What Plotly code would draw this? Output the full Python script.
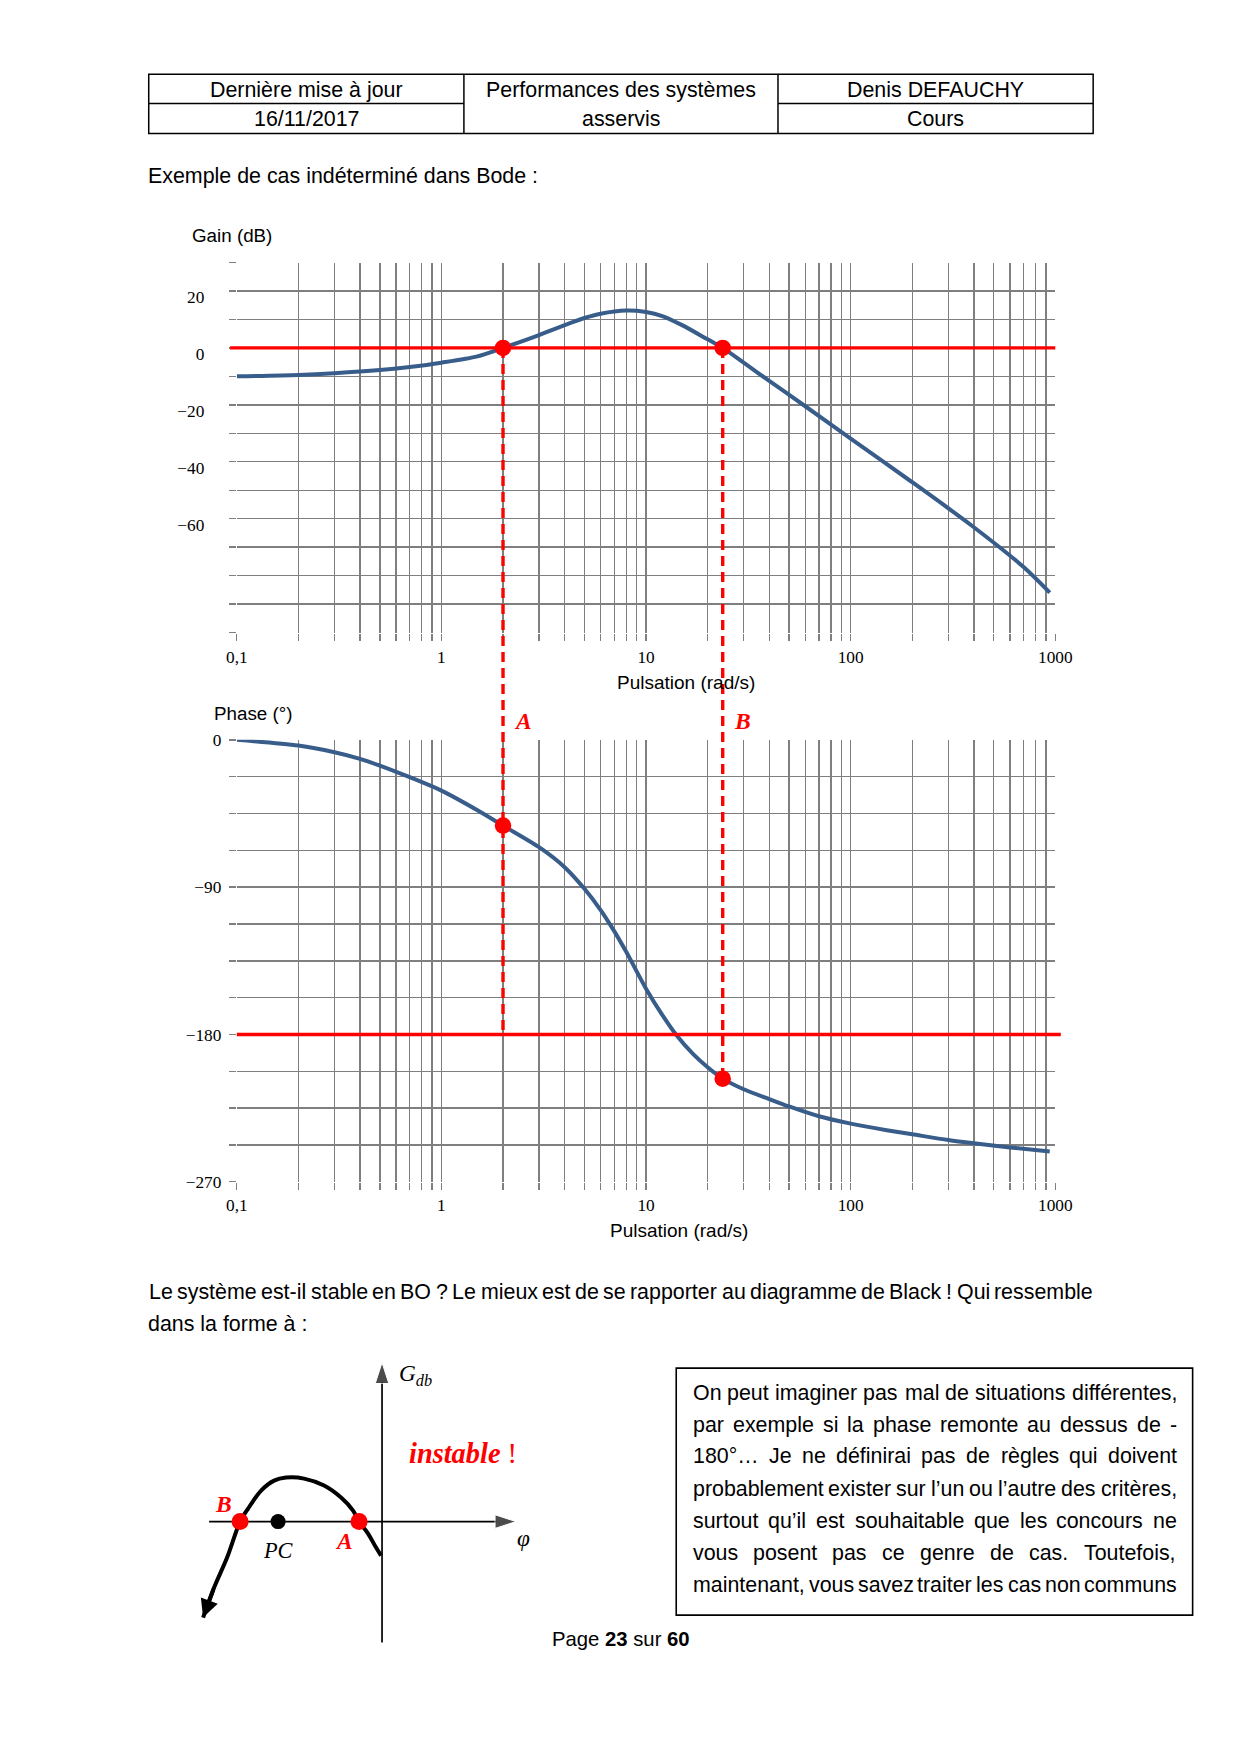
import math
import plotly.graph_objects as go

# Page is 1240x1754; the browser body keeps its 8px margin, so the figure is 1224x1738
PAGE_W, PAGE_H, OFF = 1240, 1754, 8
W, H = PAGE_W - 2 * OFF, PAGE_H - 2 * OFF
# measured placement correction of this viewer (output = a + s * page coordinate)
TXA, TXS = 10.0, 0.9775
TYA, TYS = 8.6, 0.989

# ------------------------------------------------------------------ data
gain_w = [0.1, 0.2, 0.3, 0.5, 0.7, 1, 1.5, 2, 3, 4, 5, 6, 8, 10, 12, 15, 20, 23.7,
          30, 40, 60, 100, 200, 400, 700, 940]
gain_db = [-10, -9.5, -8.9, -7.8, -6.7, -5.2, -3, 0, 4.5, 8, 10.5, 12, 13.1, 12.6, 11.2, 8, 3, 0,
           -5.2, -11.6, -20.5, -31.9, -47.2, -63, -77, -86]

phase_w = [0.1, 0.2, 0.3, 0.4, 0.5, 0.7, 1, 1.5, 2, 3, 4, 5, 6, 7, 8, 10, 12, 14, 17, 20, 23.7,
           30, 40, 50, 70, 100, 150, 200, 300, 400, 600, 940]
phase_deg = [0, -3.5, -7.6, -11.6, -15.7, -22.8, -31, -43, -52.4, -65.6, -77.8, -91, -104, -117,
             -129.5, -152, -168, -180, -192, -200, -207, -213.5, -219.5, -224, -230, -234.5, -238.5,
             -241, -244.5, -246.5, -249, -251.5]

cross_w = [2.0, 23.7]            # A, B
cross_names = ["A", "B"]
cross_gain = [0, 0]
cross_phase = [-52.4, -207.0]
gain_ref = 0                     # 0 dB line
phase_ref = -180                 # -180° line

gain_tick_vals = [20, 0, -20, -40, -60]
gain_tick_text = ["20", "0", "−20", "−40", "−60"]
phase_tick_vals = [0, -90, -180, -270]
phase_tick_text = ["0", "−90", "−180", "−270"]
x_tick_vals = [0.1, 1, 10, 100, 1000]
x_tick_text = ["0,1", "1", "10", "100", "1000"]

# Black-diagram sketch (arbitrary units, origin at axes crossing)
sketch_phi = [-1, -6, -14, -23, -29, -41, -58, -78, -96, -108, -121, -134, -142, -155, -168, -179]
sketch_gain = [-34, -26, -12, 0, 11, 24, 36, 43, 44, 41, 31, 13, 0, -36, -66, -96]
sketch_pts_phi = [-142, -23]     # B, A
sketch_pts_names = ["B", "A"]
sketch_pc_phi = -104

header_rows = [["Dernière mise à jour", "Performances des systèmes", "Denis DEFAUCHY"],
               ["16/11/2017", "asservis", "Cours"]]
box_lines = [
    "On peut imaginer pas mal de situations différentes,",
    "par exemple si la phase remonte au dessus de -",
    "180°… Je ne définirai pas de règles qui doivent",
    "probablement exister sur l’un ou l’autre des critères,",
    "surtout qu’il est souhaitable que les concours ne",
    "vous posent pas ce genre de cas. Toutefois,",
    "maintenant, vous savez traiter les cas non communs",
]
para_lines = ["Le système est-il stable en BO ? Le mieux est de se rapporter au diagramme de Black ! Qui ressemble",
              "dans la forme à :"]

# ------------------------------------------------------------------ styles
SANS = "Liberation Sans"
SERIF = "Liberation Serif"
BLUE = "#385d8a"
RED = "#ff0000"
GRID = "#7f7f7f"
BODY = 21.4


def fx(t):
    return (t - TXA) / TXS - OFF


def fy(t):
    return (t - TYA) / TYS - OFF


def px(t):
    return fx(t) / W


def py(t):
    return 1 - fy(t) / H


XD = [px(235.7), px(1054.5)]
GD = [py(632), py(262)]
PD = [py(1181.2), py(739.3)]
GR = [-100, 30]
PR = [-270, 0]
SXD = [px(180), px(540)]
SYD = [py(1660), py(1350)]
SXR = [-201, 159]
SYR = [-139, 171]


def to_paper(v, dom, rng):
    return dom[0] + (v - rng[0]) / (rng[1] - rng[0]) * (dom[1] - dom[0])


fig = go.Figure()

# Bode curves
fig.add_trace(go.Scatter(x=gain_w, y=gain_db, mode="lines", xaxis="x", yaxis="y",
                         line=dict(color=BLUE, width=4, shape="spline", smoothing=0.8),
                         hoverinfo="skip"))
fig.add_trace(go.Scatter(x=phase_w, y=phase_deg, mode="lines", xaxis="x2", yaxis="y2",
                         line=dict(color=BLUE, width=4, shape="spline", smoothing=0.8),
                         hoverinfo="skip"))
fig.add_trace(go.Scatter(x=cross_w, y=cross_gain, mode="markers", xaxis="x", yaxis="y",
                         marker=dict(color=RED, size=16.5), cliponaxis=False, hoverinfo="skip"))
fig.add_trace(go.Scatter(x=cross_w, y=cross_phase, mode="markers", xaxis="x2", yaxis="y2",
                         marker=dict(color=RED, size=16.5), cliponaxis=False, hoverinfo="skip"))

# Sketch
fig.add_trace(go.Scatter(x=[0, 0], y=[-121, 159], mode="lines+markers", xaxis="x3", yaxis="y3",
                         line=dict(color="black", width=1.7),
                         marker=dict(symbol="arrow", size=[0, 22], color="black", angleref="previous"),
                         cliponaxis=False, hoverinfo="skip"))
fig.add_trace(go.Scatter(x=[-173, 134], y=[0, 0], mode="lines+markers", xaxis="x3", yaxis="y3",
                         line=dict(color="black", width=1.7),
                         marker=dict(symbol="arrow", size=[0, 22], color="black", angleref="previous"),
                         cliponaxis=False, hoverinfo="skip"))
fig.add_trace(go.Scatter(x=sketch_phi, y=sketch_gain, mode="lines", xaxis="x3", yaxis="y3",
                         line=dict(color="black", width=4, shape="spline", smoothing=0.9),
                         cliponaxis=False, hoverinfo="skip"))
fig.add_trace(go.Scatter(x=[sketch_pc_phi], y=[0], mode="markers", xaxis="x3", yaxis="y3",
                         marker=dict(color="black", size=15), cliponaxis=False, hoverinfo="skip"))
fig.add_trace(go.Scatter(x=sketch_pts_phi, y=[0, 0], mode="markers", xaxis="x3", yaxis="y3",
                         marker=dict(color=RED, size=17), cliponaxis=False, hoverinfo="skip"))

minor_vals = [k * 10 ** e for e in range(-1, 3) for k in range(2, 10)]
TICKF = dict(family=SERIF, size=17.3, color="black")


def xaxis_cfg(anchor, standoff):
    return dict(domain=XD, anchor=anchor, type="log", range=[-1, 3],
                tickmode="array", tickvals=x_tick_vals, ticktext=x_tick_text,
                showgrid=True, gridcolor=GRID, gridwidth=1.4,
                ticks="outside", ticklen=7, tickcolor=GRID, tickwidth=1.4,
                tickfont=TICKF, ticklabelstandoff=standoff,
                minor=dict(tickmode="array", tickvals=minor_vals, showgrid=True, gridcolor=GRID,
                           gridwidth=1.4, ticks="outside", ticklen=7, tickcolor=GRID, tickwidth=1.4),
                showline=False, zeroline=False, fixedrange=True)


def yaxis_cfg(dom, rng, step, labels_v, labels_t, anchor, standoff, shift):
    grid = []
    v = rng[0]
    while v <= rng[1] + 1e-9:
        grid.append(round(v, 3))
        v += step
    return dict(domain=dom, anchor=anchor, range=rng, tickmode="array",
                tickvals=labels_v, ticktext=labels_t,
                showgrid=True, gridcolor=GRID, gridwidth=1.4,
                ticks="outside", ticklen=7, tickcolor=GRID, tickwidth=1.4,
                tickfont=TICKF, ticklabelstandoff=standoff, ticklabelshift=shift,
                minor=dict(tickmode="array", tickvals=grid, showgrid=True, gridcolor=GRID,
                           gridwidth=1.4, ticks="outside", ticklen=7, tickcolor=GRID, tickwidth=1.4),
                showline=False, zeroline=False, fixedrange=True)


fig.update_layout(
    width=W, height=H, autosize=False, margin=dict(l=0, r=0, t=0, b=0, pad=0),
    paper_bgcolor="white", plot_bgcolor="white", showlegend=False,
    font=dict(family=SANS, size=BODY, color="black"),
    xaxis=xaxis_cfg("y", 2),
    yaxis=yaxis_cfg(GD, GR, 10, gain_tick_vals, gain_tick_text, "x", 21, 6),
    xaxis2=xaxis_cfg("y2", 0),
    yaxis2=yaxis_cfg(PD, PR, 22.5, phase_tick_vals, phase_tick_text, "x2", 4, 0),
    xaxis3=dict(domain=SXD, range=SXR, visible=False, anchor="y3", fixedrange=True),
    yaxis3=dict(domain=SYD, range=SYR, visible=False, anchor="x3", fixedrange=True),
)

shapes = []
ann = []


def text(t, x, y, size=BODY, color="black", family=SANS, xanchor="center", yanchor="middle"):
    if xanchor == "left":
        x -= 2.5
    ann.append(dict(text=t, x=px(x), y=py(y), xref="paper", yref="paper", showarrow=False,
                    font=dict(size=size, color=color, family=family),
                    xanchor=xanchor, yanchor=yanchor))


def text_f(t, xf, y, size, xanchor):
    # x given in figure pixels
    ann.append(dict(text=t, x=xf / W, y=py(y), xref="paper", yref="paper", showarrow=False,
                    font=dict(size=size, color="black", family=SANS),
                    xanchor=xanchor, yanchor="middle"))


def line_px(x0, y0, x1, y1, width=1.5, color="black"):
    shapes.append(dict(type="line", xref="paper", yref="paper", x0=px(x0), y0=py(y0),
                       x1=px(x1), y1=py(y1), line=dict(color=color, width=width), layer="above"))


# ---- header table
tx0, tx1, ty0, ty1 = 147.6, 1092.4, 73.8, 133.0
shapes.append(dict(type="rect", xref="paper", yref="paper", x0=px(tx0), x1=px(tx1), y0=py(ty1), y1=py(ty0),
                   line=dict(color="black", width=1.5)))
c1, c2 = 462.9, 777.1
line_px(c1, ty0, c1, ty1)
line_px(c2, ty0, c2, ty1)
ymid = 102.9
line_px(tx0, ymid, c1, ymid)
line_px(c2, ymid, tx1, ymid)
cx = [(tx0 + c1) / 2, (c1 + c2) / 2, (c2 + tx1) / 2]
for r, yy in zip(header_rows, [89.4, 118.5]):
    for t, x in zip(r, cx):
        text(t, x, yy)

text("Exemple de cas indéterminé dans Bode :", 147.6, 175.5, xanchor="left")

# ---- chart texts
text("Gain (dB)", 191.2, 235, size=18.8, xanchor="left")
text("Pulsation (rad/s)", 685.4, 682, size=19)
text("Phase (°)", 213, 713, size=18.8, xanchor="left")
text("Pulsation (rad/s)", 677.6, 1230, size=19)

# ---- reference lines
shapes.append(dict(type="line", xref="paper", yref="y", x0=px(229), x1=XD[1], y0=gain_ref, y1=gain_ref,
                   line=dict(color=RED, width=3.4), layer="above"))
shapes.append(dict(type="line", xref="paper", yref="y2", x0=XD[0], x1=px(1060), y0=phase_ref, y1=phase_ref,
                   line=dict(color=RED, width=3.4), layer="above"))

# ---- dashed verticals (shape x in data units, annotation x in log units)
ends = [phase_ref, cross_phase[1]]
for w, nm, e in zip(cross_w, cross_names, ends):
    shapes.append(dict(type="line", xref="x", yref="paper", x0=w, x1=w,
                       y0=to_paper(gain_ref, GD, GR), y1=to_paper(e, PD, PR),
                       line=dict(color=RED, width=3.4, dash="10px,6px"), layer="above"))
    ann.append(dict(text="<b><i>%s</i></b>" % nm, x=math.log10(w), xref="x", xshift=20,
                    y=py(720), yref="paper", showarrow=False,
                    font=dict(family=SERIF, size=23.5, color=RED)))

# ---- justified text (Liberation Sans = Arial metrics, em units)
CW = {' ': .278, 'a': .556, 'b': .556, 'c': .5, 'd': .556, 'e': .556, 'f': .278, 'g': .556, 'h': .556,
      'i': .222, 'j': .222, 'k': .5, 'l': .222, 'm': .833, 'n': .556, 'o': .556, 'p': .556, 'q': .556,
      'r': .333, 's': .5, 't': .278, 'u': .556, 'v': .5, 'w': .722, 'x': .5, 'y': .5, 'z': .5,
      'é': .556, 'è': .556, 'à': .556, 'ù': .556,
      'A': .667, 'B': .667, 'C': .722, 'D': .722, 'E': .667, 'F': .611, 'G': .778, 'H': .722, 'I': .278,
      'J': .5, 'K': .667, 'L': .556, 'M': .833, 'N': .722, 'O': .778, 'P': .667, 'Q': .778, 'R': .722,
      'S': .667, 'T': .611, 'U': .722, 'V': .667, 'W': .944, 'X': .667, 'Y': .667, 'Z': .611,
      ',': .278, '.': .278, ':': .278, ';': .278, '!': .278, '?': .556, '-': .333, "'": .191, '’': .222,
      '(': .333, ')': .333, '/': .278, '°': .4, '…': 1.0}
KW = 1.02   # rendered / nominal width


def twidth(s, size):
    return sum(CW.get(ch, .556) for ch in s) * size * KW


def justify(line, x0, x1, y, size=BODY):
    a, b = fx(x0), fx(x1)
    words = line.split(" ")
    ws = [twidth(wd, size) for wd in words]
    gap = (b - a - sum(ws)) / (len(words) - 1)
    x = a
    for wd, wid in zip(words, ws):
        text_f(wd, x + wid / 2, y, size, "center")
        x += wid + gap


justify(para_lines[0], 147.6, 1092.4, 1291.4)
text(para_lines[1], 147.6, 1323.8, xanchor="left")

# ---- sketch labels and arrow tip
def sk(t, x, y, size, color="black", xs=0, ys=0):
    ann.append(dict(text=t, x=x, y=y, xref="x3", yref="y3", xshift=xs, yshift=ys, showarrow=False,
                    font=dict(family=SERIF, size=size, color=color)))


ann.append(dict(text="", x=sketch_phi[-1], y=sketch_gain[-1], xref="x3", yref="y3",
                ax=sketch_phi[-2], ay=sketch_gain[-2], axref="x3", ayref="y3",
                showarrow=True, arrowhead=2, arrowsize=0.9, arrowwidth=4, arrowcolor="black",
                standoff=0))

for ph, nm, (dx, dy) in zip(sketch_pts_phi, sketch_pts_names, [(-17, 18), (-15, -19)]):
    sk("<b><i>%s</i></b>" % nm, ph, 0, 23.5, RED, dx, dy)
sk("<i>PC</i>", sketch_pc_phi, 0, 22.3, "black", 0, -29)
sk("<i>G</i><sub><i>db</i></sub>", 0, 159, 23.3, "black", 33, -12)
sk("<i>φ</i>", 134, 0, 23.3, "black", 8, -16)
sk("<b><i>instable</i></b> !", 0, 0, 28.4, RED, 81, 68)

# ---- text box
shapes.append(dict(type="rect", xref="paper", yref="paper", x0=px(675.3), x1=px(1191.9),
                   y0=py(1614.5), y1=py(1367.5), line=dict(color="black", width=1.6)))
for ln, yy in zip(box_lines, [1392, 1424.5, 1455.8, 1488.3, 1520.6, 1552, 1584.4]):
    justify(ln, 692, 1176.3, yy)

# ---- footer
text("Page <b>23</b> sur <b>60</b>", 620, 1638, size=20.3)

fig.update_layout(shapes=shapes, annotations=ann)

fig.write_html("out.html", include_plotlyjs=True, full_html=True,
               config={"displayModeBar": False, "staticPlot": True, "responsive": False})
